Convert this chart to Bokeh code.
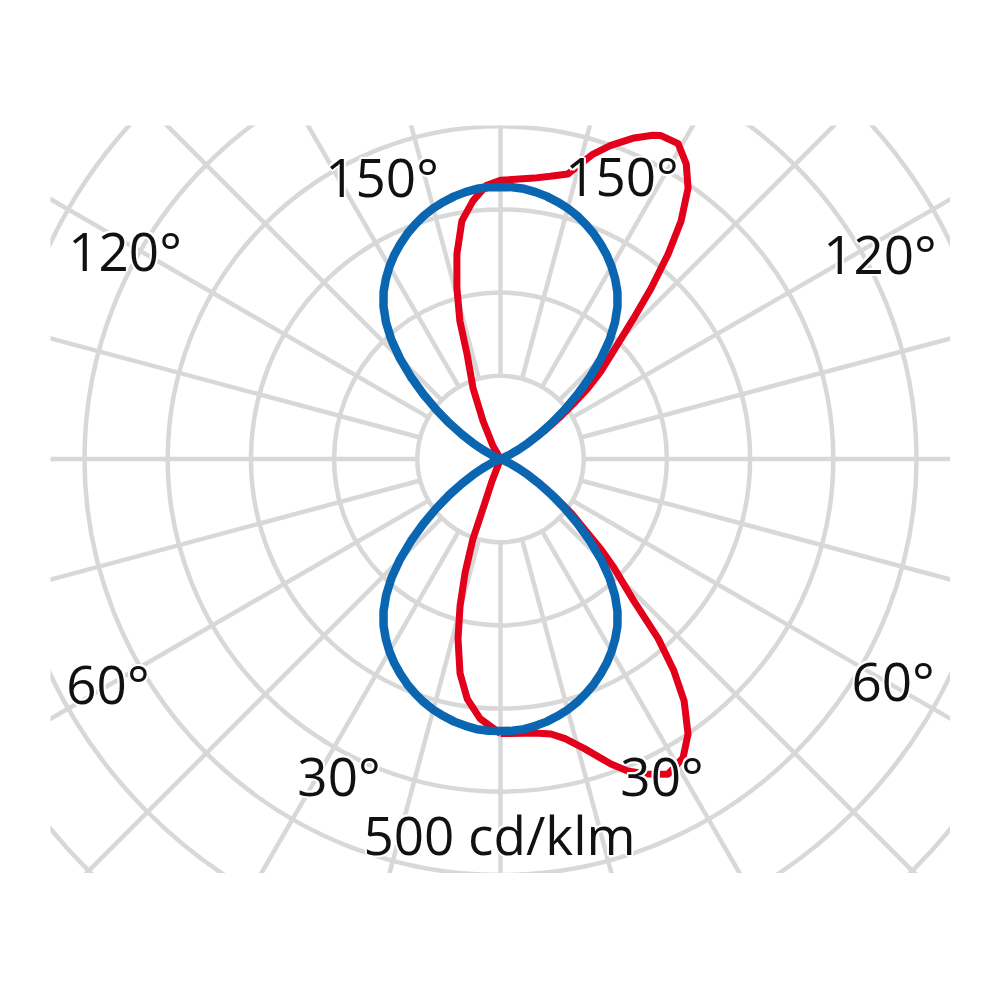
import numpy as np
from bokeh.plotting import figure
from bokeh.models import ColumnDataSource, Range1d
from bokeh.core.properties import value
from bokeh.embed import file_html
from bokeh.resources import INLINE

# ---- data (cd/klm), angles in degrees measured from the nearest vertical ----
# blue curve (symmetric plane), same profile in all four quadrants
blue_angle = [0, 2.5, 5, 7.5, 10, 12.5, 15, 17.5, 20, 22.5, 25, 27.5, 30, 32.5, 35, 37.5,
              40, 42.5, 45, 47.5, 50, 52.5, 55, 57.5, 60, 62.5, 65, 67.5, 70]
blue_cd = [327, 327, 326, 323.5, 320.5, 316.5, 312, 306.5, 300, 293, 285, 276.5, 267, 256.5,
           245, 231, 214, 194, 171, 146, 121, 97, 75, 55, 38, 24, 13, 5, 0]

# red curve, right half, lower part (gamma from nadir)
red_rl_angle = [0, 5, 8, 10.4, 13, 16.1, 19.9, 22.2, 24.8, 28, 31.4, 34.3, 37.2, 39.3, 41.3,
                43.2, 46.2, 48, 50, 52.5, 55, 57.5, 60, 62.5, 65, 67.5, 70, 72]
red_rl_cd = [330, 331, 333, 336, 345, 362, 390, 405, 417, 429, 421, 400, 365, 329, 287,
             234, 189, 163, 132, 108, 82, 60, 42, 28, 16, 7, 2, 0]

# red curve, right half, upper part (angle from zenith)
red_ru_angle = [0, 6.8, 10, 13.3, 15, 16.9, 19.3, 22.6, 25.2, 26.4, 29.4, 32.2, 34.7, 37.2,
                39.3, 41.4, 43.4, 45.6, 48.8, 51, 52.5, 55, 57.5, 60, 62.5, 65, 67.5, 70, 72]
red_ru_cd = [335, 340, 345, 352, 366, 383, 399, 418, 430, 434, 435, 419, 396, 359,
             318, 274, 233, 197, 161, 135, 115, 86, 62, 43, 28, 16, 7, 2, 0]

# red curve, left half, upper part (angle from zenith)
red_lu_angle = [0, 3, 6.1, 9.2, 12, 14.3, 16.4, 17.7, 21.2, 24.7, 30, 36]
red_lu_cd = [335, 329, 312, 290, 252, 212, 173, 132, 91, 50, 18, 0]

# red curve, left half, lower part (gamma from nadir)
red_ll_angle = [0, 4.5, 7.9, 10.7, 13.3, 15.4, 17.3, 19, 19.5, 21, 25]
red_ll_cd = [330, 313, 291, 262, 222, 183, 143, 102, 60, 30, 0]

ring_values = [100, 200, 300, 400, 500, 600, 700]
spoke_step = 15

label_texts = ["150°", "150°", "120°", "120°", "60°", "60°", "30°", "30°", "500 cd/klm"]
label_x = [-142.4, 146.0, -451.3, 456.1, -471.8, 471.8, -194.1, 194.1, -1.2]
label_y = [340.1, 340.7, 250.6, 247.0, -269.8, -266.2, -380.4, -380.4, -451.3]


def quadrant(angles, vals, sx, sy):
    a = np.radians(np.asarray(angles, dtype=float))
    v = np.asarray(vals, dtype=float)
    return sx * v * np.sin(a), sy * v * np.cos(a)


def closed_curve(rl, ru, lu, ll):
    xs, ys = [], []
    x, y = quadrant(*rl, 1, -1); xs.append(x); ys.append(y)
    x, y = quadrant(*ru, 1, 1); xs.append(x[::-1]); ys.append(y[::-1])
    x, y = quadrant(*lu, -1, 1); xs.append(x); ys.append(y)
    x, y = quadrant(*ll, -1, -1); xs.append(x[::-1]); ys.append(y[::-1])
    return np.concatenate(xs), np.concatenate(ys)


p = figure(width=950, height=873, output_backend="svg", toolbar_location=None,
           min_border_left=50, min_border_top=125, min_border_right=0, min_border_bottom=0,
           x_range=Range1d(-540.87, 540.87), y_range=Range1d(-498.2, 400.84))
p.axis.visible = False
p.grid.visible = False
p.outline_line_color = None
p.background_fill_color = "white"
p.border_fill_color = "white"

grid_col = "#d8d8d8"
p.circle(x=[0] * len(ring_values), y=[0] * len(ring_values), radius=ring_values,
         fill_color=None, line_color=grid_col, line_width=4.5)
ang = np.radians(np.arange(0, 360, spoke_step))
r0, r1 = ring_values[0], 900
p.segment(x0=r0 * np.cos(ang), y0=r0 * np.sin(ang), x1=r1 * np.cos(ang), y1=r1 * np.sin(ang),
          line_color=grid_col, line_width=4.5)

rx, ry = closed_curve((red_rl_angle, red_rl_cd), (red_ru_angle, red_ru_cd),
                      (red_lu_angle, red_lu_cd), (red_ll_angle, red_ll_cd))
p.line(rx, ry, line_color="#e2001a", line_width=7, line_join="round")

bx, by = closed_curve((blue_angle, blue_cd), (blue_angle, blue_cd),
                      (blue_angle, blue_cd), (blue_angle, blue_cd))
p.line(bx, by, line_color="#0b66b1", line_width=8.5, line_join="round")

src = ColumnDataSource(dict(x=label_x, y=label_y, t=label_texts))
text_kw = dict(x="x", y="y", text="t", source=src, text_font=value("Open Sans"),
               text_font_size="53px", text_align="center", text_baseline="alphabetic")
# thin white halo behind the labels
for dx, dy in [(-2, 0), (2, 0), (0, -2), (0, 2), (-1.5, -1.5), (1.5, -1.5), (-1.5, 1.5), (1.5, 1.5)]:
    p.text(x_offset=dx, y_offset=dy, text_color="white", **text_kw)
p.text(text_color="#111111", **text_kw)

open("out.html", "w").write(file_html(p, INLINE))
